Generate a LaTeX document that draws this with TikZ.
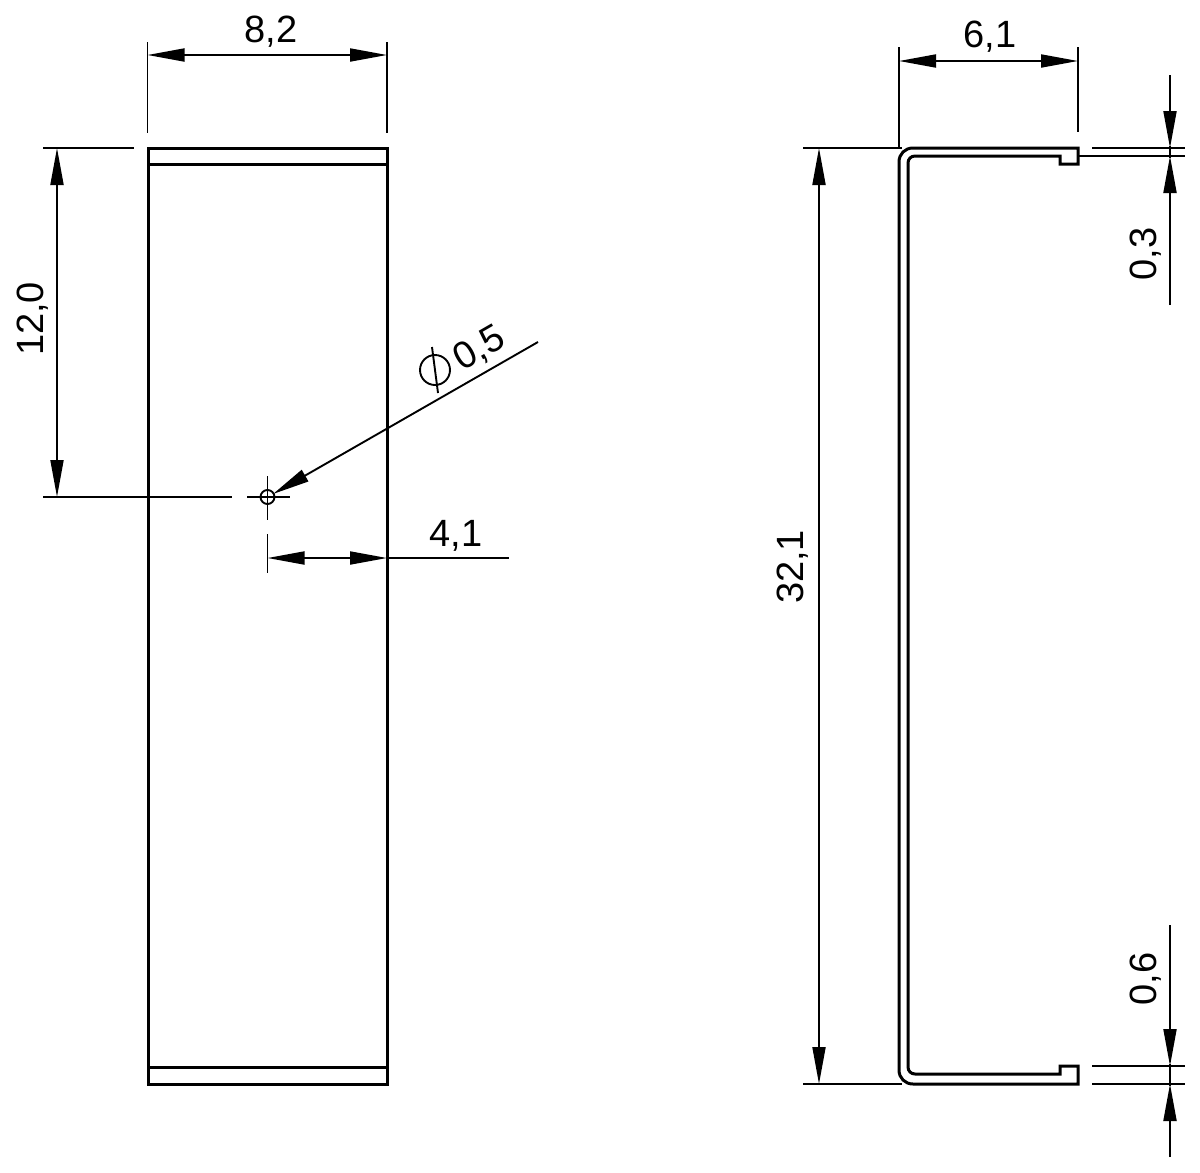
\documentclass[tikz,border=0pt]{standalone}
\usepackage{fontspec}
\setmainfont{Liberation Sans}
\usetikzlibrary{arrows.meta}
\tikzset{
  part/.style={line width=3pt,line join=miter},
  thin line/.style={line width=1.9pt},
  dim/.style={thin line,{Triangle[length=37pt,width=13pt,inset=0pt]}-{Triangle[length=37pt,width=13pt,inset=0pt]}},
  lead/.style={thin line,-{Triangle[length=37pt,width=13pt,inset=0pt]}},
  label/.style={inner sep=0pt,font=\fontsize{38}{38}\selectfont}
}
\begin{document}
\begin{tikzpicture}[x=1pt,y=-1pt]
\useasboundingbox (0,0) rectangle (1200,1173);
\fill[white] (0,0) rectangle (1200,1173);
% front view
\draw[part] (148,148) rectangle (387,1084);
\draw[part] (148,164) -- (387,164);
\draw[part] (148,1067) -- (387,1067);
% hole
\draw[thin line] (267.5,497) circle (7);
\draw[thin line] (247,497) -- (290,497);
\draw[thin line] (267.5,476) -- (267.5,520);
% front dimensions
\draw[thin line] (147.5,42) -- (147.5,133);
\draw[thin line] (387,42) -- (387,133);
\draw[dim] (147.5,55) -- (387,55);
\node[label] (d82) at (271,32) {8,2};
\draw[thin line] (43,148) -- (134,148);
\draw[thin line] (43,497) -- (232,497);
\draw[dim] (57,148) -- (57,497);
\node[label,rotate=90] (d120) at (33,319) {12,0};
\draw[thin line] (267.5,534) -- (267.5,573);
\draw[dim] (267.5,558) -- (387,558);
\draw[thin line] (387,558) -- (509,558);
\node[label] (d41) at (456,536) {4,1};
\draw[lead] (538,342) -- (273,494);
\node[label,rotate=30] (d05) at (480,349) {0,5};
\draw[thin line] (435,370) circle (15);
\draw[thin line] (432,347) -- (438,393);
% side profile
\draw[part] (1078,148) -- (913,148) .. controls (905,148) and (899,154) .. (899,162)
  -- (899,1070) .. controls (899,1078) and (905,1084) .. (913,1084)
  -- (1078,1084) -- (1078,1066) -- (1060,1066) -- (1060,1074) -- (915,1074)
  .. controls (911,1074) and (908,1071) .. (908,1067)
  -- (908,163) .. controls (908,159) and (911,156) .. (915,156)
  -- (1060,156) -- (1060,164) -- (1078,164) -- cycle;
% side dimensions
\draw[thin line] (899,47) -- (899,148);
\draw[thin line] (1078,47) -- (1078,132);
\draw[dim] (899,61) -- (1078,61);
\node[label] (d61) at (990,37) {6,1};
\draw[thin line] (803,148) -- (902,148);
\draw[thin line] (803,1084) -- (902,1084);
\draw[dim] (819,148) -- (819,1084);
\node[label,rotate=90] (d321) at (793,567) {32,1};
\draw[thin line] (1092,148) -- (1185,148);
\draw[thin line] (1078,156) -- (1185,156);
\draw[lead] (1170,75) -- (1170,148);
\draw[lead] (1170,305) -- (1170,156);
\draw[thin line] (1170,146) -- (1170,158);
\node[label,rotate=90] (d03) at (1146,254) {0,3};
\draw[thin line] (1092,1066) -- (1185,1066);
\draw[thin line] (1092,1084) -- (1185,1084);
\draw[lead] (1170,925) -- (1170,1066);
\draw[lead] (1170,1157) -- (1170,1084);
\draw[thin line] (1170,1064) -- (1170,1086);
\node[label,rotate=90] (d06) at (1146,979) {0,6};
\end{tikzpicture}
\end{document}
